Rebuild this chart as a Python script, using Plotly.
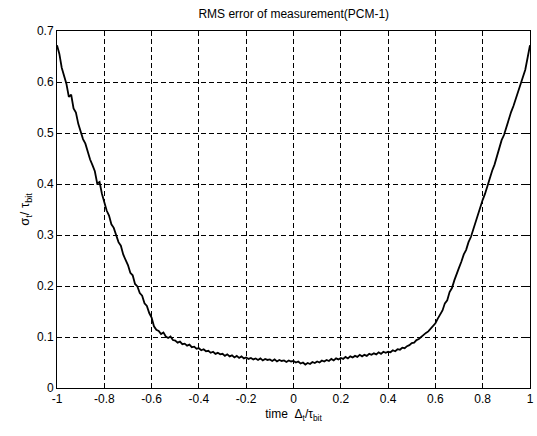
import numpy as np
import plotly.graph_objects as go

x_start = -1.0
x_step = 0.01
rms_err = [
    0.672, 0.655, 0.628, 0.612, 0.596, 0.571, 0.575, 0.548, 0.540, 0.518,
    0.502, 0.488, 0.479, 0.462, 0.448, 0.437, 0.425, 0.401, 0.404, 0.381,
    0.366, 0.348, 0.338, 0.321, 0.314, 0.298, 0.286, 0.279, 0.262, 0.251,
    0.241, 0.226, 0.221, 0.204, 0.199, 0.186, 0.181, 0.166, 0.161, 0.147,
    0.138, 0.121, 0.114, 0.112, 0.106, 0.109, 0.101, 0.098, 0.101, 0.094,
    0.093, 0.089, 0.091, 0.086, 0.087, 0.083, 0.085, 0.080, 0.081, 0.077,
    0.078, 0.074, 0.076, 0.072, 0.073, 0.069, 0.071, 0.067, 0.069, 0.066,
    0.067, 0.063, 0.066, 0.062, 0.064, 0.060, 0.063, 0.059, 0.062, 0.058,
    0.060, 0.057, 0.059, 0.056, 0.058, 0.055, 0.058, 0.054, 0.057, 0.055,
    0.056, 0.053, 0.056, 0.052, 0.055, 0.053, 0.054, 0.051, 0.054, 0.052,
    0.053, 0.050, 0.052, 0.048, 0.050, 0.046, 0.049, 0.047, 0.051, 0.049,
    0.052, 0.050, 0.054, 0.052, 0.055, 0.053, 0.057, 0.054, 0.058, 0.056,
    0.059, 0.057, 0.061, 0.058, 0.062, 0.060, 0.063, 0.061, 0.065, 0.062,
    0.065, 0.063, 0.067, 0.065, 0.068, 0.066, 0.070, 0.067, 0.071, 0.069,
    0.071, 0.070, 0.074, 0.072, 0.076, 0.075, 0.079, 0.078, 0.082, 0.084,
    0.088, 0.089, 0.094, 0.096, 0.100, 0.105, 0.108, 0.111, 0.117, 0.121,
    0.127, 0.136, 0.144, 0.152, 0.166, 0.172, 0.188, 0.196, 0.211, 0.222,
    0.236, 0.248, 0.262, 0.271, 0.286, 0.296, 0.311, 0.326, 0.339, 0.352,
    0.369, 0.381, 0.397, 0.408, 0.426, 0.438, 0.455, 0.469, 0.486, 0.496,
    0.512, 0.526, 0.541, 0.553, 0.567, 0.583, 0.598, 0.612, 0.624, 0.648, 0.672,
]
x_vals = [round(x_start + i * x_step, 2) for i in range(len(rms_err))]

x_ticks = [-1, -0.8, -0.6, -0.4, -0.2, 0, 0.2, 0.4, 0.6, 0.8, 1]
x_tick_text = ["-1", "-0.8", "-0.6", "-0.4", "-0.2", "0", "0.2", "0.4", "0.6", "0.8", "1"]
y_ticks = [0, 0.1, 0.2, 0.3, 0.4, 0.5, 0.6, 0.7]
y_tick_text = ["0", "0.1", "0.2", "0.3", "0.4", "0.5", "0.6", "0.7"]

fig = go.Figure()
fig.add_trace(go.Scatter(x=x_vals, y=rms_err, mode="lines",
                         line=dict(color="black", width=1.8), showlegend=False))

font = "Liberation Sans, Arial, sans-serif"
axis_common = dict(
    showgrid=True, gridcolor="black", griddash="5px,3px", gridwidth=1,
    showline=True, linecolor="black", linewidth=1, mirror="ticks",
    ticks="inside", ticklen=4, tickcolor="black",
    zeroline=False, tickfont=dict(family=font, size=12, color="black"),
    automargin=False,
)
fig.update_layout(
    width=537, height=436,
    margin=dict(l=57, r=7, t=31, b=48),
    paper_bgcolor="white", plot_bgcolor="white",
    title=dict(text="RMS error of measurement(PCM-1)", x=0.547, xanchor="center",
               y=0.968, yanchor="middle",
               font=dict(family=font, size=12, color="black")),
    xaxis=dict(range=[-1, 1], tickvals=x_ticks, ticktext=x_tick_text,
               title=dict(text="time  Δ<sub>t</sub>/τ<sub>bit</sub>", standoff=4,
                          font=dict(family=font, size=12, color="black")),
               **axis_common),
    yaxis=dict(range=[0, 0.7], tickvals=y_ticks, ticktext=y_tick_text,
               title=dict(text="σ<sub>t</sub>/ τ<sub>bit</sub>", standoff=4,
                          font=dict(family=font, size=13, color="black")),
               **axis_common),
)
fig.write_html("out.html", config={"displayModeBar": False},
               post_script="document.body.style.margin='0';document.body.style.padding='0';")
